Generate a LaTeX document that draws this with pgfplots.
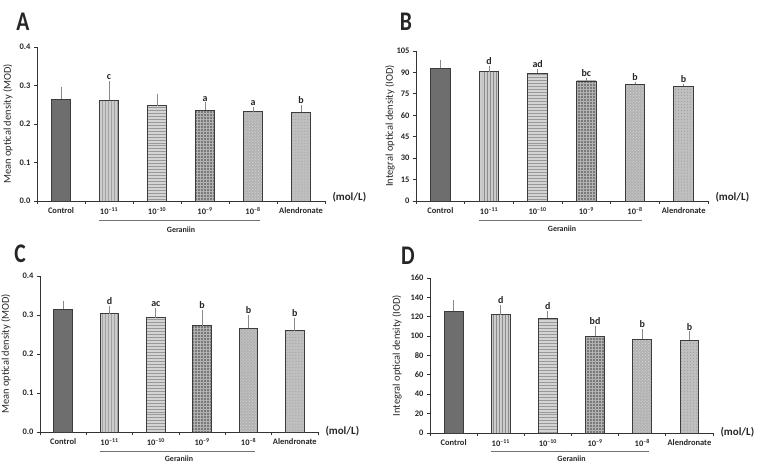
\documentclass[border=0pt]{standalone}
\usepackage{fontspec}
\setmainfont{Carlito}
\usepackage{pgfplots}
\pgfplotsset{compat=1.18}
\usetikzlibrary{patterns}

\definecolor{axisgray}{HTML}{333333}
\definecolor{txtgray}{HTML}{262626}
\definecolor{errgray}{HTML}{8A8A8A}
\definecolor{ctrlfill}{HTML}{6E6E6E}
\definecolor{edgegray}{HTML}{3C3C3C}

\pgfplotsset{
  odpanel/.style={
    scale only axis, anchor=south west, clip=false,
    xmin=-0.5, xmax=5.5, ymin=0,
    axis lines*=left,
    axis line style={axisgray, line width=0.9bp},
    every tick/.style={axisgray, line width=0.8bp},
    tick align=outside,
    xtick={0,...,5},
    xticklabels={Control,10\textsuperscript{–11},10\textsuperscript{–10},10\textsuperscript{–9},10\textsuperscript{–8},Alendronate},
    minor xtick={-0.5,0.5,...,5.5},
    major x tick style={draw=none},
    minor tick length=3bp, major tick length=3bp,
    xticklabel style={font=\bfseries\fontsize{8.5}{9}\selectfont, text=txtgray},
    yticklabel style={font=\bfseries\fontsize{8.5}{9}\selectfont, text=txtgray},
    /pgf/number format/assume math mode=true,
  },
  % y label centred on the axis height, #1 to the left of the y axis
  ylab/.style={every axis y label/.style={at={([xshift=-#1]axis description cs:0,0.5)},
      rotate=90, anchor=center, font=\fontsize{10.5}{12}\selectfont, text=txtgray}},
  bb/.style={ybar, bar width=0.4, bar shift=0pt, line width=0.9bp, draw=edgegray,
    error bars/y dir=plus, error bars/y explicit, error bars/error mark=none,
    error bars/error bar style={errgray, line width=0.9bp}},
  g0/.style={bb, fill=ctrlfill},
  g1/.style={bb, fill=black!20, postaction={pattern=vertical lines, pattern color=black!45}},
  g2/.style={bb, fill=black!17, postaction={pattern=horizontal lines, pattern color=black!40}},
  g3/.style={bb, fill=black!52, postaction={pattern=grid, pattern color=black!30}},
  g4/.style={bb, fill=black!30, postaction={pattern=crosshatch dots, pattern color=white!85!black}},
  g5/.style={bb, fill=black!25, postaction={pattern=dots, pattern color=black!40}},
  lettr/.style={draw=none, mark=none, nodes near coords, point meta=explicit symbolic,
    nodes near coords style={anchor=south, font=\bfseries\fontsize{10}{10}\selectfont,
      text=txtgray, inner sep=1bp}},
}

% group bracket, group name and unit beneath each x axis
\newcommand{\geraniin}[3]{%
  \draw[black!55, line width=0.7bp] ([yshift=-#1]axis cs:0.8,0) -- ([yshift=-#1]axis cs:4.15,0);
  \node[font=\bfseries\fontsize{8}{9}\selectfont, text=txtgray] at ([yshift=-#2]axis cs:2.5,0) {Geraniin};
  \node[anchor=west, font=\bfseries\fontsize{11}{12}\selectfont, text=txtgray] at ([xshift=4bp,yshift=#3]axis cs:5.5,0) {(mol/L)};
}

\begin{document}
\begin{tikzpicture}
\useasboundingbox (0,0) rectangle (761bp,466bp);

\tikzset{panel/.style={font=\bfseries\fontsize{27}{27}\selectfont, text=black!85, xscale=0.8, transform shape}}
\node[panel] at (23bp,444bp) {A};
\node[panel] at (406bp,444bp) {B};
\node[panel] at (20bp,212bp) {C};
\node[panel] at (408bp,210bp) {D};

% A: mean optical density
\begin{axis}[odpanel, ylab=29bp, at={(37bp,265bp)}, width=288bp, height=154bp,
  ymax=0.4, ytick={0,0.1,...,0.4},
  yticklabel style={/pgf/number format/.cd, fixed, fixed zerofill, precision=1},
  ylabel={Mean optical density (MOD)}]
\addplot[g0] coordinates {(0,0.265) +- (0,0.031)};
\addplot[g1] coordinates {(1,0.262) +- (0,0.049)};
\addplot[g2] coordinates {(2,0.248) +- (0,0.031)};
\addplot[g3] coordinates {(3,0.236) +- (0,0.020)};
\addplot[g4] coordinates {(4,0.232) +- (0,0.013)};
\addplot[g5] coordinates {(5,0.230) +- (0,0.019)};
\addplot[lettr] coordinates {(1,0.311) [c] (3,0.256) [a] (4,0.245) [a] (5,0.249) [b]};
\geraniin{19bp}{29bp}{4bp}
\end{axis}

% B: integral optical density
\begin{axis}[odpanel, ylab=26bp, at={(416bp,265bp)}, width=292bp, height=150bp,
  ymax=105, ytick={0,15,...,105},
  ylabel={Integral optical density (IOD)}]
\addplot[g0] coordinates {(0,92.9) +- (0,5.6)};
\addplot[g1] coordinates {(1,90.6) +- (0,4.2)};
\addplot[g2] coordinates {(2,89.6) +- (0,2.8)};
\addplot[g3] coordinates {(3,84.0) +- (0,2.4)};
\addplot[g4] coordinates {(4,81.7) +- (0,1.9)};
\addplot[g5] coordinates {(5,80.3) +- (0,1.9)};
\addplot[lettr] coordinates {(1,94.8) [d] (2,92.4) [ad] (3,86.4) [bc] (4,83.6) [b] (5,82.2) [b]};
\geraniin{19bp}{28bp}{4bp}
\end{axis}

% C: mean optical density
\begin{axis}[odpanel, ylab=34bp, at={(40bp,34bp)}, width=278bp, height=156bp,
  ymax=0.4, ytick={0,0.1,...,0.4},
  yticklabel style={/pgf/number format/.cd, fixed, fixed zerofill, precision=1},
  ylabel={Mean optical density (MOD)}]
\addplot[g0] coordinates {(0,0.315) +- (0,0.022)};
\addplot[g1] coordinates {(1,0.303) +- (0,0.020)};
\addplot[g2] coordinates {(2,0.293) +- (0,0.025)};
\addplot[g3] coordinates {(3,0.272) +- (0,0.042)};
\addplot[g4] coordinates {(4,0.266) +- (0,0.034)};
\addplot[g5] coordinates {(5,0.260) +- (0,0.033)};
\addplot[lettr] coordinates {(1,0.323) [d] (2,0.318) [ac] (3,0.314) [b] (4,0.300) [b] (5,0.293) [b]};
\geraniin{19bp}{26.5bp}{1bp}
\end{axis}

% D: integral optical density
\begin{axis}[odpanel, ylab=33bp, at={(430bp,33bp)}, width=283bp, height=155bp,
  ymax=160, ytick={0,20,...,160},
  ylabel={Integral optical density (IOD)}]
\addplot[g0] coordinates {(0,125.5) +- (0,12.1)};
\addplot[g1] coordinates {(1,122.0) +- (0,10.0)};
\addplot[g2] coordinates {(2,118.6) +- (0,7.3)};
\addplot[g3] coordinates {(3,100.0) +- (0,10.7)};
\addplot[g4] coordinates {(4,96.9) +- (0,10.3)};
\addplot[g5] coordinates {(5,95.9) +- (0,8.9)};
\addplot[lettr] coordinates {(1,132.0) [d] (2,125.9) [d] (3,110.7) [bd] (4,107.2) [b] (5,104.8) [b]};
\geraniin{18bp}{25.5bp}{1bp}
\end{axis}
\end{tikzpicture}
\end{document}
